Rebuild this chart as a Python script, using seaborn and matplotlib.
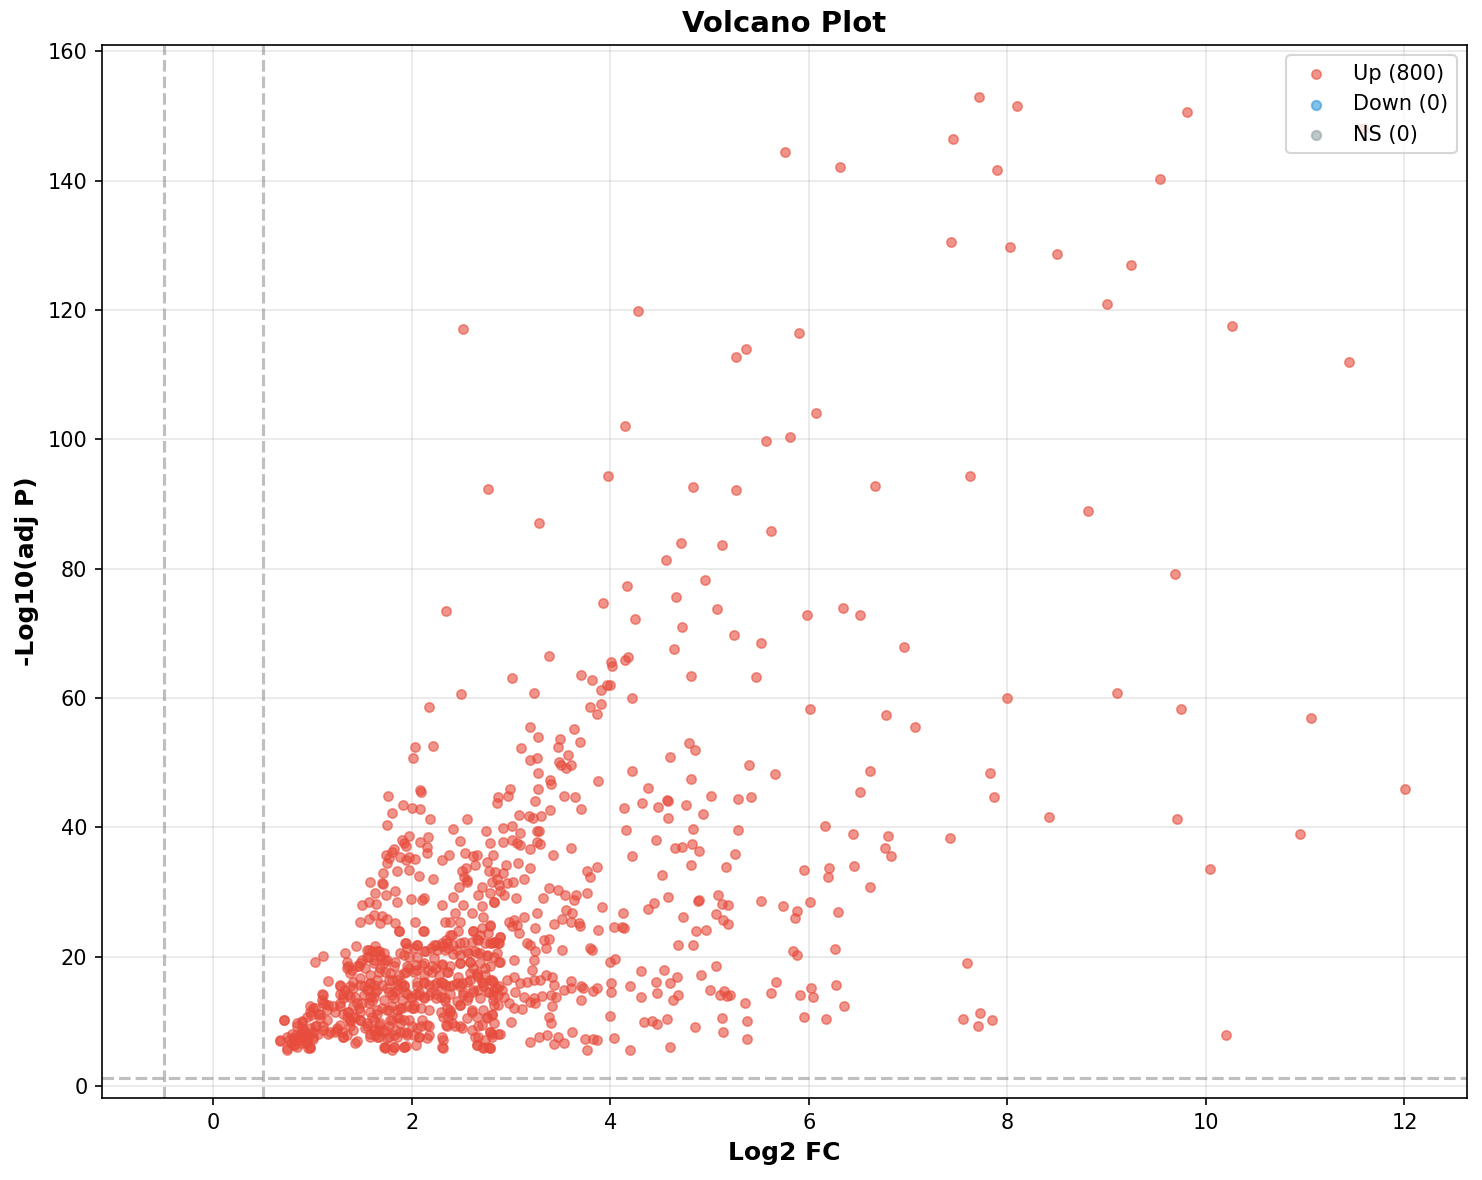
import numpy as np
import matplotlib
matplotlib.use("Agg")
import matplotlib.pyplot as plt
import seaborn as sns

# ---------------- data ----------------
# (log2 fold change, -log10 adjusted p) pairs, grouped by chart region
up_high = [
    (7.71,153.0),(8.10,151.6),(9.81,150.7),(11.58,148.2),(7.45,146.4),(5.76,144.5),(6.31,142.2),
    (7.90,141.7),(9.54,140.3),(7.43,130.6),(8.03,129.8),(8.50,128.7),(9.25,127.0),(9.00,121.0),
    (4.28,119.8),(2.52,117.0),(10.26,117.6),(5.90,116.5),(5.37,114.0),(5.27,112.8),(11.44,112.0),
    (6.07,104.1),(4.15,102.0),(5.57,99.7),(5.81,100.4),(3.98,94.4),(7.62,94.4),(2.77,92.4),
    (4.83,92.7),(5.27,92.1),(6.67,92.8),(8.81,89.0),(3.28,87.0),(5.62,85.9),(4.71,84.0),
    (5.13,83.6),(4.56,81.4),(9.69,79.2),(4.95,78.3),(4.17,77.4),(4.66,75.7),(3.93,74.7),
    (2.35,73.5),(5.08,73.7),(6.34,74.0),(5.98,72.9),(6.52,72.9),(4.25,72.3),(4.72,71.0),
    (5.25,69.8),(5.52,68.5),(6.96,67.9),(4.64,67.6),(3.38,66.5),(4.18,66.4),(4.15,65.9),
    (4.01,65.6),(4.02,65.0),(3.71,63.6),(4.81,63.4),(5.47,63.3),(3.01,63.1),(2.50,60.7),
    (9.10,60.8),(8.00,60.0),(2.17,58.6),(6.01,58.3),(9.75,58.3),(6.78,57.3),(11.06,56.9),
    (7.07,55.5),
]
up_mid_left = [
    (2.03,52.5),(2.21,52.6),(2.01,50.8),(2.08,45.8),(2.09,45.5),(1.76,44.9),(1.91,43.5),
    (2.00,43.0),(2.08,42.9),(1.80,42.2),(2.18,41.3),(1.75,40.4),(2.56,41.3),(2.42,39.8),
    (2.75,39.5),(2.87,44.7),(2.86,43.8),(1.97,38.7),(1.90,38.0),(1.92,37.6),(1.94,37.1),
    (2.16,38.5),(2.08,37.7),(2.15,37.0),(2.15,36.1),(1.74,35.7),(1.80,36.2),(1.82,36.7),
    (1.77,35.3),(1.75,34.5),(1.71,33.0),(1.70,31.4),(1.88,35.4),(1.94,35.0),(1.97,35.4),
    (2.03,35.1),(1.85,33.3),(1.97,33.4),(2.07,32.5),(2.21,32.0),(2.30,35.0),(2.38,35.7),
    (2.49,37.9),(2.54,36.1),(2.62,35.6),(2.66,35.7),(2.64,34.2),(2.55,33.7),(2.51,33.3),
    (2.53,32.3),(2.56,31.9),(2.76,34.7),(2.79,37.6),(2.78,33.3),(2.81,31.6),(2.86,32.0),
]
up_mid_center = [
    (3.23,60.8),(3.82,62.8),(4.00,62.0),(3.97,62.0),(3.91,61.3),(4.22,60.0),(3.80,58.6),
    (3.91,59.1),(3.87,57.6),(3.19,55.5),(3.27,54.0),(3.63,55.2),(3.49,53.7),(3.47,52.5),
    (3.70,53.2),(3.10,52.3),(3.19,50.4),(3.26,50.8),(3.48,50.1),(3.50,49.7),(3.57,51.2),
    (3.55,49.2),(3.60,49.7),(3.27,48.4),(4.22,48.7),(3.39,47.3),(3.40,46.7),(3.88,47.2),
    (4.79,53.1),(4.85,52.0),(4.60,50.9),(4.81,47.5),(2.99,46.0),(2.97,44.9),(3.27,46.0),
    (3.24,44.1),(3.53,44.9),(3.64,44.7),(3.71,42.9),(3.39,42.7),(3.08,41.9),(3.18,41.8),
    (3.22,41.5),(3.30,41.8),(4.38,46.1),(4.32,43.8),(4.14,43.0),(4.48,43.2),(4.57,44.3),
    (4.58,44.1),(4.76,43.5),(5.01,44.9),(4.93,42.1),(4.58,41.5),(4.16,39.6),(4.83,39.8),
    (4.46,38.1),(4.65,36.8),(4.72,37.0),(4.82,37.4),(4.89,36.4),(4.22,35.6),(4.81,34.2),
    (4.52,32.6),(5.17,33.9),(5.09,29.6),(3.26,39.5),(3.28,39.5),(2.92,39.9),(3.01,40.2),
    (3.09,39.1),(2.92,37.8),(3.01,38.1),(3.06,37.6),(3.09,37.3),(3.19,36.7),(3.26,37.8),
    (3.29,37.5),(3.42,35.7),(3.60,36.8),(2.82,35.7),(2.95,34.2),(3.07,34.5),(3.19,33.7),
    (2.84,33.1),(2.92,33.0),(3.13,32.0),(3.02,31.6),(2.96,31.4),(3.77,33.3),(3.80,32.3),
    (3.87,33.9),(3.38,30.6),(3.47,30.3),(3.32,29.1),(3.54,29.6),(3.65,29.6),(3.77,29.9),
]
up_right = [
    (5.40,49.7),(5.66,48.3),(5.29,44.4),(5.42,44.7),(6.62,48.7),(6.52,45.5),(7.83,48.4),
    (7.87,44.7),(5.29,39.6),(6.16,40.2),(6.45,39.0),(6.80,38.7),(6.77,36.8),(6.83,35.6),
    (7.42,38.4),(5.26,35.9),(5.95,33.4),(6.20,33.7),(6.19,32.3),(6.46,34.0),(6.62,30.8),
    (5.19,28.0),(5.19,25.1),(5.52,28.6),(5.74,27.9),(5.88,27.1),(5.86,26.0),(6.01,28.5),
    (6.29,26.9),(5.84,20.9),(5.88,20.3),(6.26,21.2),(7.59,19.0),(5.21,14.1),(5.67,16.1),
    (5.62,14.4),(5.91,14.1),(6.02,15.2),(6.04,13.8),(6.27,15.6),(6.35,12.4),(5.36,12.8),
    (5.38,10.1),(5.38,7.3),(5.95,10.7),(6.17,10.4),(7.55,10.4),(7.72,11.3),(7.70,9.3),
    (7.85,10.2),(12.01,46.0),(8.42,41.6),(9.71,41.3),(10.95,39.0),(10.04,33.6),(10.20,7.9),
]
up_low_center = [
    (2.89,30.1),(2.93,29.6),(2.83,28.5),(3.05,29.0),(2.79,24.9),(2.98,25.4),(3.03,25.7),
    (3.06,24.9),(3.13,26.2),(3.08,23.6),(3.01,24.7),(2.89,23.1),(2.84,22.3),(2.79,22.1),
    (2.87,22.1),(3.16,22.1),(3.19,21.8),(3.24,20.8),(3.23,19.5),(3.33,22.6),(3.38,22.7),
    (3.35,21.3),(3.51,21.0),(3.26,26.7),(3.24,24.4),(3.43,25.0),(3.51,25.9),(3.55,27.2),
    (3.61,26.7),(3.60,25.4),(3.68,25.2),(3.70,24.7),(2.89,19.2),(3.03,19.5),(3.21,17.9),
    (3.35,17.2),(3.41,16.9),(2.96,16.4),(3.03,16.8),(3.09,15.9),(3.16,16.1),(3.23,16.4),
    (3.29,16.4),(3.43,15.6),(2.81,16.4),(2.86,15.1),(2.91,14.9),(3.04,14.6),(3.13,13.8),
    (3.23,13.6),(3.31,13.9),(3.40,14.1),(3.45,13.8),(3.60,16.3),(3.60,15.1),(3.53,14.8),
    (3.71,15.5),(3.73,15.2),(3.83,14.7),(3.87,15.1),(3.71,13.3),(2.82,14.1),(2.93,13.8),
    (2.98,12.8),(2.87,12.5),(3.03,12.0),(3.11,11.9),(3.19,13.0),(3.24,12.8),(3.41,12.4),
    (3.38,10.7),(3.40,9.8),(2.81,11.0),(2.79,8.4),(2.87,8.0),(3.00,9.9),(3.19,6.8),
    (3.28,7.6),(3.36,7.9),(3.43,6.5),(3.47,7.6),(3.53,6.7),(3.61,8.3),(3.75,7.2),
    (3.83,7.2),(3.87,7.1),(3.77,5.6),(2.79,5.8),(3.80,21.3),(3.82,21.0),(3.63,28.8),
    (3.92,27.7),(4.13,26.8),(4.12,24.6),(4.14,24.4),(4.04,24.6),(3.88,24.1),(4.38,27.4),
    (4.44,28.3),(4.58,29.2),(4.73,26.2),(4.88,28.6),(4.89,28.8),(5.13,28.2),(5.14,25.7),
    (5.06,26.6),(4.86,24.0),(4.96,24.1),(4.68,21.8),(4.83,21.8),(4.00,19.2),(4.05,19.6),
    (4.31,17.8),(4.54,17.9),(4.67,16.9),(4.91,17.2),(5.06,18.6),(4.46,16.1),(4.60,15.9),
    (4.20,15.5),(4.01,15.9),(4.01,14.5),(4.31,13.8),(4.47,14.4),(4.63,13.3),(4.68,14.1),
    (5.00,14.9),(5.11,14.1),(5.15,14.7),(5.18,13.9),(4.00,10.8),(4.34,9.9),(4.42,10.1),
    (4.47,9.6),(4.57,10.4),(4.85,9.1),(5.13,10.5),(5.14,8.4),(4.04,7.4),(4.20,5.6),
    (4.60,6.0),
]
up_low_left = [
    (1.58,31.6),(1.71,31.3),(1.83,30.1),(1.63,29.9),(1.74,29.6),(1.85,28.5),(1.99,28.9),
    (2.10,28.8),(2.12,29.0),(1.50,28.0),(1.57,28.4),(1.64,28.2),(1.48,25.4),(1.57,25.8),
    (1.62,26.5),(1.68,25.2),(1.70,26.3),(1.75,25.8),(1.83,25.2),(1.87,23.9),(2.03,25.4),
    (2.11,24.0),(2.30,28.0),(2.42,29.2),(2.52,28.0),(2.48,30.7),(2.56,31.6),(2.71,30.8),
    (2.79,29.8),(2.83,28.5),(2.88,31.1),(2.67,29.5),(2.71,27.8),(2.61,26.7),(2.44,26.7),
    (2.39,25.4),(2.34,25.4),(2.49,25.4),(2.62,23.9),(2.71,24.4),(2.72,26.2),(2.79,24.7),
    (2.83,22.3),(2.88,22.1),(2.89,23.1),(2.66,22.7),(2.53,22.3),(2.41,23.4),(2.36,22.1),
    (2.30,21.6),(2.24,21.8),(2.19,21.3),(2.37,21.3),(2.42,20.4),(2.49,20.3),(2.57,20.5),
    (2.64,20.8),(2.69,20.5),(2.76,20.1),(2.83,20.0),(2.88,19.2),(2.30,18.8),(2.22,19.8),
    (2.14,20.8),(2.05,21.8),(2.02,21.3),(1.94,22.1),(1.95,21.3),(1.92,20.3),(2.05,20.0),
    (2.10,18.7),(2.16,17.9),(2.24,18.2),(2.36,17.7),(2.49,19.0),(2.59,19.2),(2.62,18.2),
    (2.66,17.2),(2.74,18.2),(2.79,16.4),(2.83,14.9),(2.88,15.4),(2.78,14.6),(2.67,14.9),
    (2.56,16.1),(2.49,15.4),(2.46,15.9),(2.39,15.4),(2.34,15.6),(2.29,16.1),(2.24,15.9),
    (2.17,15.6),(2.12,16.1),(2.05,15.4),(2.04,14.3),(1.99,13.8),(1.92,15.4),(1.93,14.6),
    (1.85,14.9),(1.80,14.1),(1.75,15.1),(1.77,16.4),(1.73,17.7),(1.72,19.0),(1.75,19.5),
    (1.68,20.0),(1.67,20.8),(1.60,20.8),(1.55,21.0),(1.57,20.0),(1.50,19.5),(1.47,18.5),
    (1.40,17.9),(1.36,18.5),(1.35,19.2),(1.33,20.5),(1.44,21.7),(1.11,20.1),(1.03,19.1),
    (1.16,16.3),(1.28,15.4),(1.33,14.9),(1.38,15.4),(1.41,16.1),(1.48,16.7),(1.52,15.4),
    (1.57,14.9),(1.62,15.6),(1.58,13.8),(1.50,12.8),(1.47,12.0),(1.43,13.8),(1.36,14.1),
    (1.31,13.6),(1.28,14.3),(1.11,14.1),(1.10,13.3),(1.13,12.7),(1.16,12.5),(1.08,11.2),
    (1.03,12.0),(0.99,11.0),(0.98,12.3),(0.94,10.7),(0.89,10.0),(0.84,9.7),(0.79,8.1),
    (0.71,10.2),(0.74,7.6),(0.67,7.0),(0.74,5.6),(0.81,6.3),(0.86,7.6),(0.91,8.4),
    (0.96,7.6),(0.98,6.1),(1.01,8.4),(1.04,9.2),(1.11,9.2),(1.16,8.1),(1.25,8.7),
    (1.28,9.4),(1.31,7.6),(1.35,7.9),(1.43,6.7),(1.38,10.0),(1.41,10.7),(1.48,10.2),
    (1.55,9.7),(1.53,8.9),(1.58,8.1),(1.63,7.9),(1.67,8.7),(1.72,8.4),(1.77,7.6),
    (1.82,7.9),(1.88,8.4),(1.95,8.2),(2.00,9.2),(2.09,9.2),(2.15,9.4),(2.17,7.9),
    (2.07,7.6),(2.02,7.9),(1.94,6.2),(1.82,6.1),(1.73,6.1),(1.80,5.6),(1.92,6.1),
    (1.65,11.2),(1.70,12.0),(1.75,11.8),(1.80,12.3),(1.85,11.8),(1.90,12.0),(1.95,12.3),
    (2.02,12.5),(2.02,12.0),(2.07,14.1),(2.12,13.6),(2.17,14.1),(2.24,14.3),(2.29,13.8),
    (2.34,13.6),(2.36,12.0),(2.39,11.8),(2.32,10.7),(2.41,11.0),(2.49,12.5),(2.52,14.1),
    (2.57,13.8),(2.61,11.5),(2.62,14.9),(2.67,16.9),(2.71,16.1),(2.72,15.4),(2.83,12.5),
    (2.87,14.1),(2.76,10.7),(2.83,9.7),(2.81,8.1),(2.89,8.1),(2.67,9.2),(2.64,7.6),
    (2.66,6.3),(2.72,5.8),(2.79,5.8),(2.32,7.1),(2.36,9.2),(2.41,9.7),(2.49,9.3),
    (2.32,5.8),(1.63,21.6),(1.62,19.5),(1.68,18.2),(1.82,18.5),(1.87,17.2),(1.94,17.7),
    (1.97,18.2),(2.04,17.9),(1.80,16.4),(1.85,16.4),(1.89,15.9),(1.65,14.9),(1.65,16.4),
    (1.58,17.2),(1.53,18.2),(1.52,14.1),(1.45,12.8),(1.28,12.8),(1.21,12.3),(1.23,11.5),
    (1.92,10.2),(1.88,9.7),(1.85,10.7),(1.80,10.2),(1.77,9.2),(1.68,9.7),(1.60,10.7),
    (1.58,11.5),(1.48,11.5),(1.41,12.3),(1.36,11.5),(1.31,11.2),(1.35,10.7),(1.38,9.2),
    (1.23,8.4),(1.15,10.2),(1.08,10.5),(0.88,8.1),(0.81,7.1),(0.93,6.6),(0.96,5.8),
    (0.88,7.1),(0.83,7.9),(0.78,6.6),(0.84,6.1),(0.89,8.9),(1.01,7.2),(1.06,8.1),
]
up_dense_core = [
    (1.87,23.9),(2.12,23.9),(2.39,23.4),(2.47,23.9),(2.62,23.9),(2.69,23.4),(2.77,23.6),
    (1.93,22.1),(2.05,21.8),(2.22,21.8),(2.30,22.1),(2.35,22.6),(2.42,21.8),(2.49,22.1),
    (2.61,22.3),(2.67,22.6),(2.74,22.1),(2.81,22.1),(1.65,20.8),(1.72,20.5),(1.88,20.5),
    (1.97,20.0),(2.12,20.8),(2.25,21.0),(2.34,21.0),(2.46,21.0),(2.56,20.8),(2.66,20.5),
    (2.76,20.3),(2.86,20.5),(1.62,19.0),(1.73,19.5),(1.83,19.2),(1.95,18.5),(2.04,18.7),
    (2.12,19.0),(2.20,18.5),(2.30,18.7),(2.39,18.5),(2.49,19.0),(2.59,19.2),(2.69,19.0),
    (2.79,18.5),(1.67,17.7),(1.78,17.4),(1.92,17.4),(2.02,17.7),(2.12,17.2),(2.20,17.7),
    (2.27,17.2),(2.37,17.7),(2.47,16.9),(2.59,17.4),(2.66,17.4),(2.74,17.2),(1.58,15.9),
    (1.70,15.6),(1.85,15.6),(1.92,15.6),(2.05,16.1),(2.12,15.9),(2.22,15.6),(2.32,15.9),
    (2.42,15.6),(2.51,15.9),(2.59,16.4),(2.72,15.9),(2.82,16.1),(1.63,14.6),(1.77,14.6),
    (1.83,14.6),(1.95,14.3),(2.07,14.6),(2.19,14.6),(2.29,14.9),(2.39,14.3),(2.52,14.6),
    (2.62,14.6),(2.77,14.6),(1.60,13.1),(1.72,13.3),(1.82,13.6),(1.90,13.3),(2.00,13.6),
    (2.12,13.8),(2.24,13.6),(2.34,13.1),(2.46,13.1),(2.56,13.3),(2.69,13.6),(2.82,13.3),
    (1.65,11.8),(1.77,11.8),(1.88,12.0),(2.00,12.0),(2.09,12.0),(2.17,11.8),(2.29,11.5),
    (2.39,11.5),(2.49,12.5),(2.61,11.8),(2.72,11.8),(2.81,11.2),(1.62,10.2),(1.78,10.2),
    (1.87,10.5),(1.97,10.2),(2.10,10.2),(2.37,10.5),(2.56,10.5),(2.66,10.7),(2.76,10.5),
    (1.63,8.7),(1.73,8.7),(1.83,8.7),(1.92,8.4),(2.05,8.9),(2.17,9.2),(2.35,9.4),
    (2.44,9.2),(2.51,8.9),(2.61,8.7),(2.71,9.4),(2.79,8.4),(1.65,7.6),(1.75,7.4),
    (1.85,7.6),(1.95,7.9),(2.07,7.6),(2.15,7.4),(2.30,7.6),(2.67,7.6),(2.74,7.1),
    (2.81,7.6),(1.72,6.1),(1.82,6.1),(1.92,6.1),(2.04,6.3),(2.30,6.1),(2.66,6.3),
    (2.72,6.1),(2.77,6.1),
]
up_dense_left = [
    (1.57,21.0),(1.55,20.0),(1.68,20.3),(1.28,15.6),(1.35,18.2),(1.38,17.4),(1.45,18.5),
    (1.48,19.0),(1.31,14.3),(1.38,13.8),(1.41,15.1),(1.48,15.6),(1.55,14.9),(1.58,15.9),
    (1.62,13.8),(1.57,12.8),(1.10,14.3),(1.11,12.8),(1.01,12.0),(0.98,11.5),(1.06,11.2),
    (1.15,11.8),(0.89,9.9),(0.84,9.2),(0.91,8.7),(0.98,8.9),(1.03,9.2),(0.96,8.1),
    (0.88,7.6),(0.81,7.4),(0.76,7.1),(0.81,6.3),(0.88,6.6),(0.94,7.1),(1.01,7.6),
    (0.98,5.8),(0.74,5.8),(0.67,7.1),(0.71,10.2),(1.25,8.9),(1.30,8.4),(1.18,8.4),
    (1.11,8.7),(1.38,10.2),(1.43,10.7),(1.48,10.2),(1.41,8.7),(1.45,6.9),(1.31,7.6),
    (1.55,9.2),(1.62,8.7),(1.67,9.4),(1.58,7.6),(1.67,7.6),(1.73,5.8),(1.28,12.3),
    (1.36,11.5),
]

up_points = (up_high + up_mid_left + up_mid_center + up_right + up_low_center
             + up_low_left + up_dense_core + up_dense_left)
up_log2fc = [p[0] for p in up_points]
up_neglog10p = [p[1] for p in up_points]

legend_labels = ["Up (800)", "Down (0)", "NS (0)"]
fc_threshold = 0.5
p_threshold = 0.05

# ---------------- figure ----------------
fig = plt.figure(figsize=(1482 / 150, 1180 / 150), dpi=150)
ax = fig.add_axes([102 / 1482, 1 - 1098 / 1180, (1467 - 102) / 1482, (1098 - 45) / 1180])

sns.scatterplot(x=up_log2fc, y=up_neglog10p, ax=ax, color="#e74c3c", s=20, alpha=0.6,
                edgecolor="#e74c3c", linewidth=0.75, label=legend_labels[0], zorder=3)
ax.scatter([], [], color="#3498db", s=20, alpha=0.6, label=legend_labels[1])
ax.scatter([], [], color="#95a5a6", s=20, alpha=0.6, label=legend_labels[2])

ax.axvline(-fc_threshold, color="gray", linestyle="--", linewidth=1.5, alpha=0.5)
ax.axvline(fc_threshold, color="gray", linestyle="--", linewidth=1.5, alpha=0.5)
ax.axhline(-np.log10(p_threshold), color="gray", linestyle="--", linewidth=1.5, alpha=0.5)

ax.set_xlim(-1.12, 12.63)
ax.set_ylim(-1.86, 161.0)
ax.set_xticks([0, 2, 4, 6, 8, 10, 12])
ax.set_yticks([0, 20, 40, 60, 80, 100, 120, 140, 160])
ax.grid(True, alpha=0.3)
ax.set_axisbelow(True)

ax.set_xlabel("Log2 FC", fontsize=12, fontweight="bold")
ax.set_ylabel("-Log10(adj P)", fontsize=12, fontweight="bold")
ax.set_title("Volcano Plot", fontsize=14, fontweight="bold")
ax.legend(loc="upper right", fontsize=10)

fig.savefig("out.png", dpi=150)
